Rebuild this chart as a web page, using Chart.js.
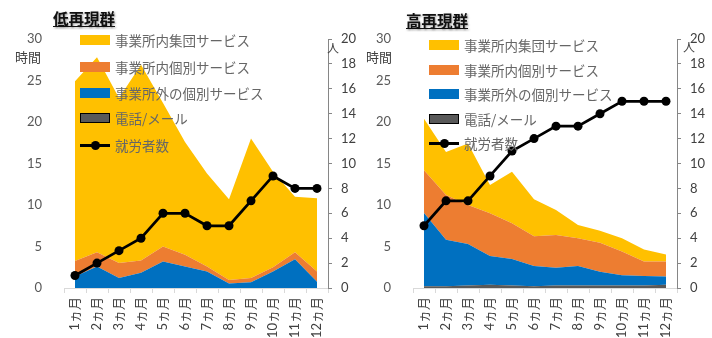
<!DOCTYPE html>
<html>
<head>
<meta charset="utf-8">
<script src="https://cdn.jsdelivr.net/npm/chart.js@4.4.0/dist/chart.umd.min.js"></script>
<style>
  body { margin: 0; background: #fff; width: 712px; height: 338px; overflow: hidden; position: relative;
         font-family: Lato, "Noto Sans CJK JP", sans-serif; }
  .panel { position: absolute; top: 0; width: 356px; height: 338px; }
  .panel canvas { position: absolute; left: 0; top: 0; }
  .title { position: absolute; font-family: "Noto Sans CJK JP"; font-weight: 700; font-size: 15.5px; line-height: 20px;
           text-decoration: underline; color: #111; text-shadow: 1px 1px 2px #999; }
  .unit { position: absolute; font-family: "Noto Sans CJK JP"; font-size: 13px; line-height: 16px; color: #404040; }
  .item { position: absolute; height: 20px; line-height: 20px; white-space: nowrap;
          font-family: "Noto Sans CJK JP"; font-size: 13.5px; color: #666; }
  .sw { position: absolute; left: 0; top: 5px; width: 30px; height: 10px; box-sizing: border-box; }
  .ln { position: absolute; left: 0; top: 8.5px; width: 30px; height: 3px; background: #000; }
  .dot { position: absolute; left: 10.5px; top: 5.5px; width: 9px; height: 9px; border-radius: 50%; background: #000; }
  .txt { position: absolute; left: 35px; top: 0; }
</style>
</head>
<body>

<div class="panel" style="left:0">
  <canvas id="lowChart" width="356" height="338"></canvas>
  <div class="title" style="left:53px;top:8px">低再現群</div>
  <div class="unit" style="left:15px;top:49px">時間</div>
  <div class="unit" style="left:327px;top:40px;font-size:12px">人</div>
  <div id="lowLegend"></div>
</div>

<div class="panel" style="left:356px">
  <canvas id="highChart" width="356" height="338"></canvas>
  <div class="title" style="left:50px;top:10px">高再現群</div>
  <div class="unit" style="left:10px;top:49px">時間</div>
  <div class="unit" style="left:327px;top:39px;font-size:12px">人</div>
  <div id="highLegend"></div>
</div>

<script>
// --- data ---
const months = ['1ヵ月','2ヵ月','3ヵ月','4ヵ月','5ヵ月','6ヵ月','7ヵ月','8ヵ月','9ヵ月','10ヵ月','11ヵ月','12ヵ月'];
const seriesNames = ['事業所内集団サービス','事業所内個別サービス','事業所外の個別サービス','電話/メール','就労者数'];

// 低再現群 (hours, stacked) and workers
const lowPhone    = [0, 0, 0, 0, 0, 0, 0, 0, 0, 0, 0, 0];
const lowOutside  = [1.4, 2.6, 1.2, 1.85, 3.2, 2.6, 2.0, 0.55, 0.7, 2.0, 3.45, 0.75];
const lowIndiv    = [1.85, 1.7, 1.8, 1.45, 1.8, 1.4, 0.6, 0.4, 0.5, 0.5, 0.85, 1.25];
const lowGroup    = [21.65, 23.5, 19.9, 23.6, 17.3, 13.6, 11.2, 9.75, 16.8, 11.5, 6.7, 8.8];
const lowWorkers  = [1, 2, 3, 4, 6, 6, 5, 5, 7, 9, 8, 8];

// 高再現群
const highPhone   = [0.2, 0.2, 0.3, 0.4, 0.3, 0.2, 0.3, 0.3, 0.3, 0.3, 0.3, 0.4];
const highOutside = [8.85, 5.6, 5.0, 3.45, 3.2, 2.45, 2.15, 2.35, 1.65, 1.25, 1.15, 1.0];
const highIndiv   = [5.15, 5.4, 4.7, 5.15, 4.3, 3.6, 3.95, 3.35, 3.5, 2.85, 1.75, 1.8];
const highGroup   = [6.2, 5.2, 7.4, 3.4, 6.2, 4.45, 3.0, 1.6, 1.45, 1.6, 1.45, 0.85];
const highWorkers = [5, 7, 7, 9, 11, 12, 13, 13, 14, 15, 15, 15];

// --- styles ---
const colGroup = '#FFC000', colIndiv = '#ED7D31', colOutside = '#0070C0', colPhone = '#595959';

function area(label, data, color, fill) {
  return { type: 'line', label: label, data: data, yAxisID: 'y', stack: 'h',
           backgroundColor: color, borderColor: color, borderWidth: 0,
           pointRadius: 0, tension: 0, fill: fill, order: 1 };
}

function makeChart(id, phone, outside, indiv, group, workers, leftW, rightW) {
  new Chart(document.getElementById(id), {
    type: 'line',
    data: {
      labels: months,
      datasets: [
        area(seriesNames[3], phone, colPhone, 'origin'),
        area(seriesNames[2], outside, colOutside, '-1'),
        area(seriesNames[1], indiv, colIndiv, '-1'),
        area(seriesNames[0], group, colGroup, '-1'),
        { type: 'line', label: seriesNames[4], data: workers, yAxisID: 'y1',
          borderColor: '#000', backgroundColor: '#000', borderWidth: 2.75,
          pointRadius: 4.5, pointBackgroundColor: '#000', pointBorderWidth: 0,
          tension: 0, fill: false, order: 0 }
      ]
    },
    options: {
      responsive: false,
      animation: false,
      layout: { padding: { top: 39, left: 0, right: 0, bottom: 0 } },
      plugins: { legend: { display: false }, tooltip: { enabled: false } },
      scales: {
        x: {
          offset: true,
          grid: { display: true, drawOnChartArea: false, offset: true, tickLength: 5, color: '#d9d9d9' },
          border: { display: true, color: '#d9d9d9' },
          ticks: { minRotation: 90, maxRotation: 90, autoSkip: false, padding: 4,
                   color: '#404040', font: { family: 'Lato, "Noto Sans CJK JP"', size: 13 } },
          afterFit: s => { s.height = 50; }
        },
        y: {
          position: 'left', stacked: true, min: 0, max: 30,
          grid: { display: false },
          border: { display: false },
          ticks: { stepSize: 5, padding: 14, color: '#595959', font: { family: 'Lato', size: 13 } },
          afterFit: s => { s.width = leftW; }
        },
        y1: {
          position: 'right', stacked: false, min: 0, max: 20,
          grid: { display: true, drawOnChartArea: false, tickLength: 4, color: '#868686' },
          border: { display: true, color: '#868686' },
          ticks: { stepSize: 2, padding: 9, color: '#404040', font: { family: 'Lato', size: 13 } },
          afterFit: s => { s.width = rightW; }
        }
      }
    }
  });
}

makeChart('lowChart', lowPhone, lowOutside, lowIndiv, lowGroup, lowWorkers, 64, 28);
makeChart('highChart', highPhone, highOutside, highIndiv, highGroup, highWorkers, 57, 35);

// legends drawn as html over the plot area
const swatches = [colGroup, colIndiv, colOutside, colPhone, null];
function makeLegend(id, left, rows) {
  const box = document.getElementById(id);
  seriesNames.forEach((name, i) => {
    const it = document.createElement('div');
    it.className = 'item';
    it.style.left = left + 'px';
    it.style.top = (rows[i] - 10) + 'px';
    if (swatches[i]) {
      const sw = document.createElement('div');
      sw.className = 'sw';
      sw.style.background = swatches[i];
      if (i === 3) sw.style.border = '1px solid #000';
      it.appendChild(sw);
    } else {
      const ln = document.createElement('div'); ln.className = 'ln'; it.appendChild(ln);
      const dot = document.createElement('div'); dot.className = 'dot'; it.appendChild(dot);
    }
    const t = document.createElement('div');
    t.className = 'txt';
    t.textContent = name;
    it.appendChild(t);
    box.appendChild(it);
  });
}
makeLegend('lowLegend', 80, [40, 66.5, 92.5, 118, 145]);
makeLegend('highLegend', 73, [45, 70, 94, 118.5, 143]);
</script>
</body>
</html>
